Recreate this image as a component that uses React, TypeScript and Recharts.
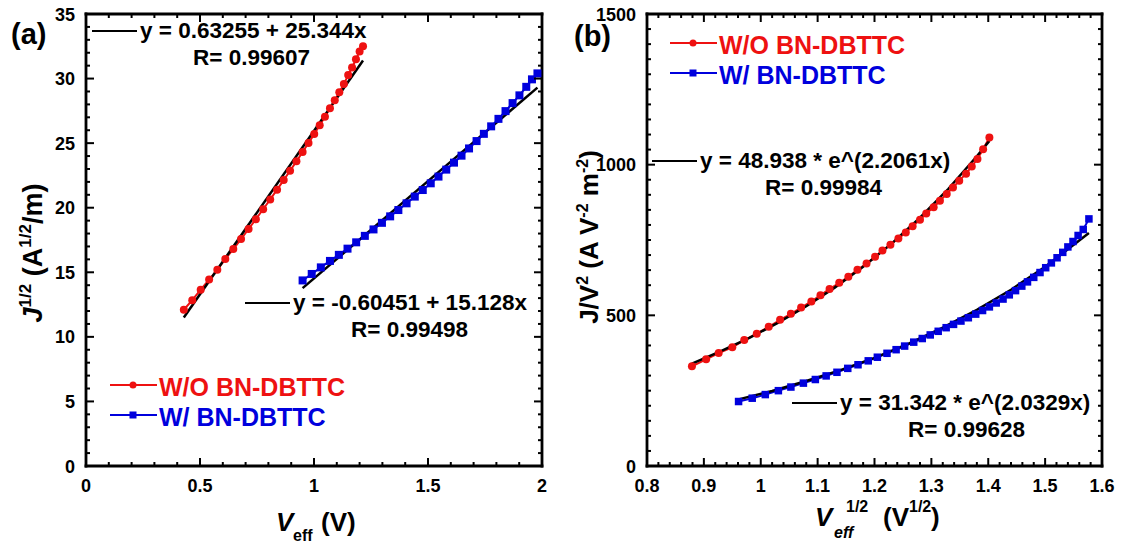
import React from 'react';
import { ScatterChart, Scatter, XAxis, YAxis } from 'recharts';

const RED = '#ee1111';
const BLUE = '#0000dd';
const FONT = '"Liberation Sans", Arial, sans-serif';

// ---- panel (a): J^1/2 vs Veff ----
const aMajorX = [0, 0.5, 1, 1.5, 2];
const aMajorY = [0, 5, 10, 15, 20, 25, 30, 35];

const aRedX = [
  0.429, 0.466, 0.503, 0.540, 0.576, 0.611, 0.646, 0.680, 0.713, 0.745,
  0.777, 0.808, 0.838, 0.867, 0.895, 0.923, 0.950, 0.976, 1.001, 1.025,
  1.048, 1.070, 1.091, 1.111, 1.131, 1.150, 1.167, 1.184, 1.200, 1.215,
];
const aRedY = [
  12.10, 12.84, 13.65, 14.44, 15.20, 16.02, 16.80, 17.57, 18.35, 19.11,
  19.88, 20.64, 21.40, 22.14, 22.86, 23.59, 24.31, 25.02, 25.70, 26.38,
  27.04, 27.70, 28.33, 28.94, 29.57, 30.28, 30.86, 31.49, 32.10, 32.50,
];
const aRedFitX = [0.429, 1.215];
const aRedFitY = [11.5, 31.4];

const aBlueX = [
  0.950, 0.990, 1.030, 1.070, 1.109, 1.147, 1.185, 1.223, 1.261, 1.298,
  1.334, 1.370, 1.406, 1.442, 1.477, 1.512, 1.546, 1.580, 1.614, 1.647,
  1.680, 1.713, 1.745, 1.777, 1.809, 1.840, 1.871, 1.901, 1.931, 1.956, 1.980,
];
const aBlueY = [
  14.37, 14.87, 15.38, 15.88, 16.35, 16.83, 17.32, 17.82, 18.32, 18.83,
  19.33, 19.82, 20.34, 20.86, 21.37, 21.89, 22.41, 22.95, 23.49, 24.03,
  24.59, 25.16, 25.72, 26.30, 26.88, 27.48, 28.10, 28.70, 29.36, 29.94, 30.40,
];
const aBlueFitX = [0.95, 1.98];
const aBlueFitY = [13.77, 29.3];

// ---- panel (b): J/V^2 vs Veff^1/2 ----
const bMajorX = [0.8, 0.9, 1, 1.1, 1.2, 1.3, 1.4, 1.5, 1.6];
const bMajorY = [0, 500, 1000, 1500];

const bRedX = [
  0.879, 0.904, 0.926, 0.950, 0.971, 0.993, 1.014, 1.034, 1.053, 1.071,
  1.089, 1.105, 1.121, 1.138, 1.154, 1.170, 1.186, 1.201, 1.214, 1.228,
  1.242, 1.255, 1.267, 1.280, 1.291, 1.304, 1.315, 1.327, 1.338, 1.349,
  1.361, 1.371, 1.381, 1.391, 1.402,
];
const bRedY = [
  331, 354, 375, 394, 418, 439, 462, 485, 505, 526,
  546, 567, 587, 608, 628, 651, 672, 694, 715, 734,
  755, 775, 796, 817, 838, 859, 880, 903, 924, 947,
  970, 994, 1019, 1051, 1090,
];
const bRedFitX = [0.879, 0.93, 0.98, 1.03, 1.08, 1.13, 1.18, 1.23, 1.28, 1.33, 1.38, 1.402];
const bRedFitY = [340, 381, 425, 475, 530, 592, 661, 738, 824, 920, 1028, 1079];

const bBlueX = [
  0.961, 0.985, 1.008, 1.031, 1.053, 1.075, 1.096, 1.115, 1.134, 1.153,
  1.171, 1.189, 1.205, 1.222, 1.238, 1.253, 1.269, 1.284, 1.298, 1.312,
  1.326, 1.339, 1.352, 1.365, 1.378, 1.390, 1.402, 1.414, 1.426, 1.437,
  1.448, 1.459, 1.469, 1.480, 1.491, 1.501, 1.511, 1.521, 1.531, 1.540,
  1.549, 1.558, 1.567, 1.577,
];
const bBlueY = [
  214, 225, 237, 250, 262, 275, 287, 299, 311, 324,
  336, 349, 361, 374, 386, 398, 411, 423, 435, 447,
  459, 470, 481, 492, 504, 516, 528, 541, 554, 568,
  582, 597, 611, 626, 642, 658, 674, 691, 709, 727,
  745, 765, 785, 820,
];
const bBlueFitX = [0.961, 1.02, 1.08, 1.14, 1.2, 1.26, 1.32, 1.38, 1.44, 1.5, 1.577];
const bBlueFitY = [221, 249, 282, 318, 359, 406, 459, 518, 585, 661, 773];

const zip = (xs: number[], ys: number[]) => xs.map((x, i) => ({ x, y: ys[i] }));

// every tick position between two majors (minor ticks included)
function steps(from: number, to: number, step: number) {
  const out: number[] = [];
  const n = Math.round((to - from) / step);
  for (let i = 0; i <= n; i++) out.push(+(from + i * step).toFixed(4));
  return out;
}

type Side = 'bottom' | 'top' | 'left' | 'right';

const makeTick = (side: Side, majors: number[], withLabel: boolean) => (props: any) => {
  const { x, y, payload } = props;
  const v = payload.value;
  const major = majors.some(m => Math.abs(m - v) < 1e-6);
  const len = major ? 8 : 4;
  let x2 = x;
  let y2 = y;
  if (side === 'bottom') y2 = y - len;
  if (side === 'top') y2 = y + len;
  if (side === 'left') x2 = x + len;
  if (side === 'right') x2 = x - len;
  const showLabel = withLabel && major;
  return (
    <g>
      <line x1={x} y1={y} x2={x2} y2={y2} stroke="#000" strokeWidth={2} />
      {showLabel && side === 'bottom' && (
        <text x={x} y={y + 26} textAnchor="middle" fontSize={18} fontWeight="bold" fontFamily={FONT} fill="#000">
          {String(v)}
        </text>
      )}
      {showLabel && side === 'left' && (
        <text x={x - 11} y={y + 6.5} textAnchor="end" fontSize={18} fontWeight="bold" fontFamily={FONT} fill="#000">
          {String(v)}
        </text>
      )}
    </g>
  );
};

const noDot = () => <g />;
const dot = (color: string, r: number) => (p: any) => <circle cx={p.cx} cy={p.cy} r={r} fill={color} />;
const square = (color: string, s: number) => (p: any) => (
  <rect x={p.cx - s / 2} y={p.cy - s / 2} width={s} height={s} fill={color} />
);

const frame = { stroke: '#000', strokeWidth: 2.8, strokeLinecap: 'square' as const };

interface PanelProps {
  width: number;
  margin: { top: number; right: number; bottom: number; left: number };
  xDomain: [number, number];
  yDomain: [number, number];
  xMajor: number[];
  yMajor: number[];
  xTicks: number[];
  yTicks: number[];
  red: { x: number; y: number }[];
  redFit: { x: number; y: number }[];
  blue: { x: number; y: number }[];
  blueFit: { x: number; y: number }[];
  markR: number;
  markS: number;
}

// axes are 1px thick so that the frame sits exactly on the plot edge
function Panel(p: PanelProps) {
  return (
    <ScatterChart width={p.width} height={547} margin={p.margin}>
      <XAxis
        type="number" dataKey="x" domain={p.xDomain} ticks={p.xTicks} interval={0}
        allowDataOverflow height={1} tickSize={0} tickMargin={0} tickLine={false}
        axisLine={frame} tick={makeTick('bottom', p.xMajor, true)}
      />
      <XAxis
        xAxisId="top" orientation="top" type="number" dataKey="x" domain={p.xDomain} ticks={p.xTicks}
        interval={0} allowDataOverflow height={1} tickSize={0} tickMargin={0} tickLine={false}
        axisLine={frame} tick={makeTick('top', p.xMajor, false)}
      />
      <YAxis
        type="number" dataKey="y" domain={p.yDomain} ticks={p.yTicks} interval={0}
        allowDataOverflow width={1} tickSize={0} tickMargin={0} tickLine={false}
        axisLine={frame} tick={makeTick('left', p.yMajor, true)}
      />
      <YAxis
        yAxisId="right" orientation="right" type="number" dataKey="y" domain={p.yDomain} ticks={p.yTicks}
        interval={0} allowDataOverflow width={1} tickSize={0} tickMargin={0} tickLine={false}
        axisLine={frame} tick={makeTick('right', p.yMajor, false)}
      />
      <Scatter data={p.red} line={{ stroke: RED, strokeWidth: 2 }} shape={noDot} isAnimationActive={false} />
      <Scatter data={p.blue} line={{ stroke: BLUE, strokeWidth: 2 }} shape={noDot} isAnimationActive={false} />
      <Scatter data={p.redFit} line={{ stroke: '#000', strokeWidth: 2.5 }} shape={noDot} isAnimationActive={false} />
      <Scatter data={p.blueFit} line={{ stroke: '#000', strokeWidth: 2.5 }} shape={noDot} isAnimationActive={false} />
      <Scatter data={p.red} shape={dot(RED, p.markR)} isAnimationActive={false} />
      <Scatter data={p.blue} shape={square(BLUE, p.markS)} isAnimationActive={false} />
    </ScatterChart>
  );
}

const txt = { fontFamily: FONT, fontWeight: 'bold' as const, fill: '#000' };

function LegendBlock({ x, y }: { x: number; y: number }) {
  return (
    <g>
      <line x1={x} y1={y} x2={x + 47} y2={y} stroke={RED} strokeWidth={2} />
      <circle cx={x + 23} cy={y} r={3.5} fill={RED} />
      <text x={x + 49} y={y + 11} fontSize={25} {...txt} fill={RED}>W/O BN-DBTTC</text>
      <line x1={x} y1={y + 30} x2={x + 47} y2={y + 30} stroke={BLUE} strokeWidth={2} />
      <rect x={x + 19.5} y={y + 26.5} width={7} height={7} fill={BLUE} />
      <text x={x + 49} y={y + 41} fontSize={25} {...txt} fill={BLUE}>W/ BN-DBTTC</text>
    </g>
  );
}

function Equation({ x, y, eq, r, rx }: { x: number; y: number; eq: string; r: string; rx: number }) {
  return (
    <g>
      <line x1={x} y1={y - 7} x2={x + 45} y2={y - 7} stroke="#000" strokeWidth={2} />
      <text x={x + 48} y={y} fontSize={22.5} {...txt}>{eq}</text>
      <text x={rx} y={y + 27} fontSize={22.5} {...txt}>{r}</text>
    </g>
  );
}

export default function App() {
  return (
    <div style={{ position: 'absolute', left: 0, top: 0, width: 1124, height: 547, background: '#fff' }}>
      <div style={{ position: 'absolute', left: 0, top: 0 }}>
        <Panel
          width={560}
          margin={{ top: 13, right: 17, bottom: 80, left: 85 }}
          xDomain={[0, 2]}
          yDomain={[0, 35]}
          xMajor={aMajorX}
          yMajor={aMajorY}
          xTicks={steps(0, 2, 0.1)}
          yTicks={steps(0, 35, 1)}
          red={zip(aRedX, aRedY)}
          redFit={zip(aRedFitX, aRedFitY)}
          blue={zip(aBlueX, aBlueY)}
          blueFit={zip(aBlueFitX, aBlueFitY)}
          markR={4}
          markS={8}
        />
      </div>
      <div style={{ position: 'absolute', left: 560, top: 0 }}>
        <Panel
          width={564}
          margin={{ top: 13, right: 21, bottom: 80, left: 86 }}
          xDomain={[0.8, 1.6]}
          yDomain={[0, 1500]}
          xMajor={bMajorX}
          yMajor={bMajorY}
          xTicks={steps(0.8, 1.6, 0.02)}
          yTicks={steps(0, 1500, 50)}
          red={zip(bRedX, bRedY)}
          redFit={zip(bRedFitX, bRedFitY)}
          blue={zip(bBlueX, bBlueY)}
          blueFit={zip(bBlueFitX, bBlueFitY)}
          markR={4}
          markS={7.5}
        />
      </div>
      <svg
        width={1124}
        height={547}
        style={{ position: 'absolute', left: 0, top: 0, pointerEvents: 'none' }}
      >
        {/* panel letters */}
        <text x={11} y={44} fontSize={29} {...txt}>(a)</text>
        <text x={574} y={46} fontSize={29} {...txt}>(b)</text>

        {/* axis titles (a) */}
        <text x={276} y={531} fontSize={26} {...txt} fontStyle="italic">V</text>
        <text x={293} y={541} fontSize={16} {...txt}>eff</text>
        <text x={321} y={531} fontSize={26} {...txt}>(V)</text>
        <text transform="translate(42,253) rotate(-90)" textAnchor="middle" fontSize={27} {...txt}>
          <tspan fontStyle="italic">J</tspan>
          <tspan fontSize={17} dy={-11}>1/2</tspan>
          <tspan dy={11}> (A</tspan>
          <tspan fontSize={17} dy={-11}>1/2</tspan>
          <tspan dy={11}>/m)</tspan>
        </text>

        {/* axis titles (b) */}
        <text x={815} y={526} fontSize={26} {...txt} fontStyle="italic">V</text>
        <text x={834} y={538} fontSize={16} {...txt} fontStyle="italic">eff</text>
        <text x={846} y={512} fontSize={16} {...txt}>1/2</text>
        <text x={883} y={526} fontSize={26} {...txt}>(V</text>
        <text x={909} y={512} fontSize={16} {...txt}>1/2</text>
        <text x={931} y={526} fontSize={26} {...txt}>)</text>
        <text transform="translate(598,237) rotate(-90)" textAnchor="middle" fontSize={26} {...txt}>
          <tspan>J/V</tspan>
          <tspan fontSize={16} dy={-10}>2</tspan>
          <tspan dy={10}> (A V</tspan>
          <tspan fontSize={16} dy={-10}>-2</tspan>
          <tspan dy={10}> m</tspan>
          <tspan fontSize={16} dy={-10}>-2</tspan>
          <tspan dy={10}>)</tspan>
        </text>

        {/* legends */}
        <LegendBlock x={110} y={385} />
        <LegendBlock x={670} y={43} />

        {/* fit equations */}
        <Equation x={92} y={38} eq="y = 0.63255 + 25.344x" r="R= 0.99607" rx={193} />
        <Equation x={245} y={310} eq="y = -0.60451 + 15.128x" r="R= 0.99498" rx={351} />
        <Equation x={652} y={168} eq="y = 48.938 * e^(2.2061x)" r="R= 0.99984" rx={765} />
        <Equation x={792} y={410} eq="y = 31.342 * e^(2.0329x)" r="R= 0.99628" rx={908} />
      </svg>
    </div>
  );
}
